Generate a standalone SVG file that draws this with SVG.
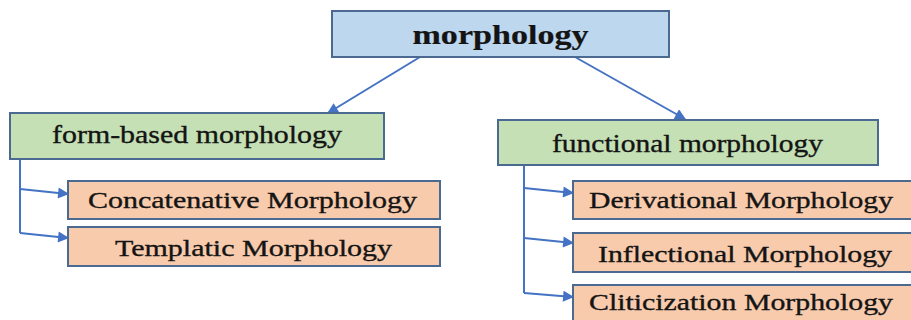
<svg xmlns="http://www.w3.org/2000/svg" width="911" height="320" viewBox="0 0 911 320">
<style>
.box{stroke:#4a6a92;stroke-width:2}
.blue{fill:#bdd7ee}
.green{fill:#c5e0b4}
.orange{fill:#f8cbad}
.t{font-family:"Liberation Serif","Times New Roman",serif;fill:#141414;stroke:#141414;stroke-width:0.35;text-anchor:middle}
.top{font-size:28px;font-weight:bold;stroke-width:0.2}
.mid{font-size:25px}
.leaf{font-size:24px}
.c{fill:none;stroke:#4472c4;stroke-width:2}
</style>
<defs>
<marker id="ah" viewBox="0 0 10 10" refX="9" refY="5" markerWidth="6" markerHeight="5.5" orient="auto" markerUnits="strokeWidth">
<path d="M0,0 L10,5 L0,10 z" fill="#4472c4"/>
</marker>
</defs>
<rect width="911" height="320" fill="#ffffff"/>
<g id="connectors">
<line class="c" x1="420" y1="57" x2="328" y2="113" marker-end="url(#ah)"/>
<line class="c" x1="575" y1="57" x2="685" y2="119" marker-end="url(#ah)"/>
<polyline class="c" points="20,159 20,233"/>
<line class="c" x1="20" y1="189" x2="68" y2="194" marker-end="url(#ah)"/>
<line class="c" x1="20" y1="233" x2="68" y2="238" marker-end="url(#ah)"/>
<polyline class="c" points="524,165 524,293"/>
<line class="c" x1="524" y1="188" x2="573" y2="193" marker-end="url(#ah)"/>
<line class="c" x1="524" y1="238" x2="573" y2="243" marker-end="url(#ah)"/>
<line class="c" x1="524" y1="293" x2="573" y2="297" marker-end="url(#ah)"/>
</g>
<g id="morphology">
<rect class="box blue" x="332" y="11" width="337" height="46"/>
<text class="t top" x="500.5" y="43.5" textLength="176" lengthAdjust="spacingAndGlyphs">morphology</text>
</g>
<g id="form-based">
<rect class="box green" x="10" y="113" width="374" height="46"/>
<text class="t mid" x="197" y="143" textLength="290" lengthAdjust="spacingAndGlyphs">form-based morphology</text>
</g>
<g id="concatenative">
<rect class="box orange" x="68" y="181" width="372" height="38"/>
<text class="t leaf" x="252.5" y="207.5" textLength="329" lengthAdjust="spacingAndGlyphs">Concatenative Morphology</text>
</g>
<g id="templatic">
<rect class="box orange" x="68" y="227" width="372" height="39"/>
<text class="t leaf" x="253.5" y="256" textLength="277" lengthAdjust="spacingAndGlyphs">Templatic Morphology</text>
</g>
<g id="functional">
<rect class="box green" x="498" y="120" width="380" height="45"/>
<text class="t mid" x="687.5" y="152" textLength="271" lengthAdjust="spacingAndGlyphs">functional morphology</text>
</g>
<g id="derivational">
<rect class="box orange" x="573" y="181" width="345" height="38"/>
<text class="t leaf" x="741" y="208" textLength="304" lengthAdjust="spacingAndGlyphs">Derivational Morphology</text>
</g>
<g id="inflectional">
<rect class="box orange" x="573" y="233" width="345" height="39"/>
<text class="t leaf" x="745" y="262" textLength="294" lengthAdjust="spacingAndGlyphs">Inflectional Morphology</text>
</g>
<g id="cliticization">
<rect class="box orange" x="573" y="285" width="345" height="45"/>
<text class="t leaf" x="741" y="310" textLength="304" lengthAdjust="spacingAndGlyphs">Cliticization Morphology</text>
</g>
</svg>
